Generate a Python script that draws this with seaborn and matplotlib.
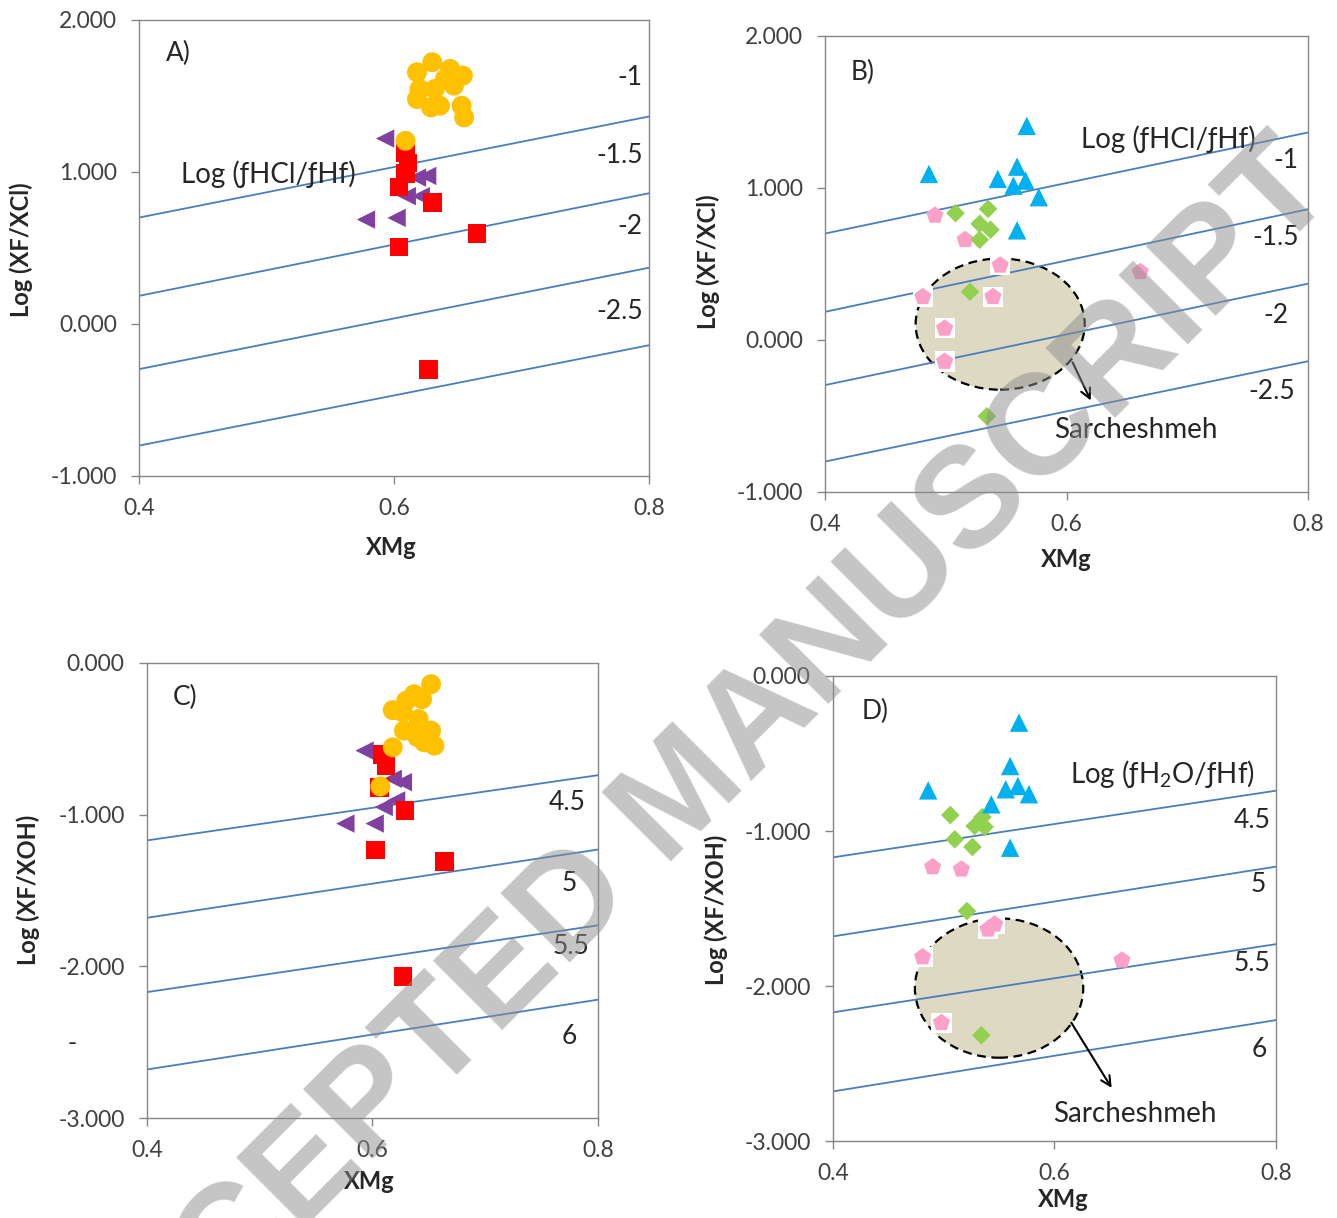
import numpy as np
import pandas as pd
import matplotlib.pyplot as plt
import seaborn as sns
from matplotlib.patches import Ellipse

## ---- data ----

# lines (value at XMg = 0.4 and at XMg = 0.8)
line_x = [0.4, 0.8]
hcl_lines = [[0.70, 1.365], [0.185, 0.86], [-0.297, 0.37], [-0.80, -0.14]]
hcl_labels = ['-1', '-1.5', '-2', '-2.5']
h2o_lines = [[-1.17, -0.74], [-1.68, -1.23], [-2.17, -1.73], [-2.68, -2.22]]
h2o_labels = ['4.5', '5', '5.5', '6']

# panel A  (Log XF/XCl)
a_circ_x = [0.618, 0.630, 0.644, 0.654, 0.647, 0.620, 0.632, 0.640, 0.618, 0.629, 0.636, 0.653, 0.655, 0.609]
a_circ_y = [1.656, 1.722, 1.678, 1.634, 1.568, 1.546, 1.546, 1.612, 1.480, 1.425, 1.436, 1.436, 1.359, 1.205]
a_sq_x = [0.609, 0.611, 0.609, 0.604, 0.630, 0.665, 0.604, 0.627]
a_sq_y = [1.13, 1.06, 0.99, 0.90, 0.80, 0.595, 0.507, -0.30]
a_tri_x = [0.593, 0.626, 0.618, 0.610, 0.621, 0.578, 0.602]
a_tri_y = [1.220, 0.974, 0.963, 0.841, 0.841, 0.687, 0.698]

# panel B  (Log XF/XCl)
b_tri_x = [0.567, 0.486, 0.543, 0.559, 0.556, 0.566, 0.577, 0.559]
b_tri_y = [1.408, 1.092, 1.059, 1.140, 1.015, 1.048, 0.939, 0.721]
b_dia_x = [0.508, 0.535, 0.528, 0.537, 0.528, 0.520, 0.534]
b_dia_y = [0.834, 0.862, 0.764, 0.725, 0.659, 0.317, -0.502]
b_pent_x = [0.491, 0.516, 0.545, 0.481, 0.539, 0.499, 0.499, 0.661]
b_pent_y = [0.819, 0.659, 0.491, 0.284, 0.284, 0.076, -0.142, 0.448]
b_boxed = [2, 3, 4, 5, 6]

# panel C  (Log XF/XOH)
c_circ_x = [0.652, 0.637, 0.644, 0.630, 0.618, 0.627, 0.641, 0.628, 0.652, 0.640, 0.646, 0.655, 0.618, 0.607]
c_circ_y = [-0.140, -0.206, -0.239, -0.249, -0.311, -0.326, -0.370, -0.446, -0.446, -0.490, -0.523, -0.545, -0.556, -0.814]
c_sq_x = [0.609, 0.612, 0.606, 0.629, 0.603, 0.664, 0.627]
c_sq_y = [-0.604, -0.676, -0.823, -0.972, -1.234, -1.311, -2.066]
c_tri_x = [0.593, 0.627, 0.618, 0.621, 0.610, 0.576, 0.602]
c_tri_y = [-0.578, -0.786, -0.764, -0.906, -0.950, -1.059, -1.059]

# panel D  (Log XF/XOH)
d_tri_x = [0.568, 0.560, 0.486, 0.556, 0.567, 0.577, 0.543, 0.560]
d_tri_y = [-0.301, -0.581, -0.738, -0.731, -0.710, -0.763, -0.828, -1.108]
d_dia_x = [0.506, 0.535, 0.528, 0.537, 0.510, 0.526, 0.521, 0.534]
d_dia_y = [-0.897, -0.910, -0.968, -0.974, -1.054, -1.103, -1.516, -2.318]
d_pent_x = [0.490, 0.516, 0.546, 0.540, 0.481, 0.661, 0.498]
d_pent_y = [-1.232, -1.247, -1.602, -1.634, -1.813, -1.834, -2.237]
d_boxed = [2, 3, 4, 6]

## ---- style ----
sns.set_style('ticks')
plt.rcParams['font.family'] = ['Lato', 'DejaVu Sans']
plt.rcParams['mathtext.fontset'] = 'custom'
plt.rcParams['mathtext.rm'] = 'Lato'
plt.rcParams['mathtext.it'] = 'Lato:italic'

gold = '#FFC000'
red = '#FF0000'
purple = '#8040A0'
blue = '#00B0F0'
green = '#92D050'
pink = '#FBA0C8'
line_blue = '#4A7EBB'
axis_gray = '#868686'

fig = plt.figure(figsize=(13.37, 12.18), dpi=100)

ax_a = fig.add_axes([0.1040, 0.6092, 0.3814, 0.3744])
ax_b = fig.add_axes([0.6171, 0.5961, 0.3613, 0.3744])
ax_c = fig.add_axes([0.1099, 0.0821, 0.3373, 0.3736])
ax_d = fig.add_axes([0.6230, 0.0632, 0.3313, 0.3818])


def base_axes(ax, ylim, yticks, ylabel, xlab_pos, ylab_pos):
    ax.set_xlim(0.4, 0.8)
    ax.set_ylim(*ylim)
    ax.set_xticks([0.4, 0.6, 0.8])
    ax.set_xticklabels(['0.4', '0.6', '0.8'])
    ax.set_yticks(yticks)
    ax.set_yticklabels([f'{v:.3f}' for v in yticks])
    ax.tick_params(direction='out', length=6, width=1, color=axis_gray,
                   labelsize=16.5, labelcolor='#404040', pad=10)
    for sp in ax.spines.values():
        sp.set_color(axis_gray)
        sp.set_linewidth(1)
    ax.set_xlabel('XMg', fontsize=17, fontweight='bold')
    ax.set_ylabel(ylabel, fontsize=17, fontweight='bold')
    ax.xaxis.set_label_coords(*xlab_pos)
    ax.yaxis.set_label_coords(*ylab_pos)


def draw_lines(ax, lines, labels, label_pos):
    for (y0, y1), lab, (tx, ty) in zip(lines, labels, label_pos):
        ax.plot(line_x, [y0, y1], color=line_blue, lw=1.3, zorder=2)
        ax.text(tx, ty, lab, fontsize=19, ha='right', va='center')


def scatter(ax, x, y, marker, s, color, z):
    sns.scatterplot(x=x, y=y, marker=marker, s=s, color=color,
                    edgecolor='none', linewidth=0, ax=ax, zorder=z, legend=False)


# ---------------- A ----------------
base_axes(ax_a, (-1, 2), [-1, 0, 1, 2], 'Log (XF/XCl)', (0.494, -0.132), (-0.208, 0.496))
draw_lines(ax_a, hcl_lines, hcl_labels,
           [(0.795, 1.623), (0.795, 1.106), (0.795, 0.643), (0.795, 0.081)])
scatter(ax_a, a_tri_x, a_tri_y, '<', 175, purple, 3)
scatter(ax_a, a_sq_x, a_sq_y, 's', 180, red, 4)
scatter(ax_a, a_circ_x, a_circ_y, 'o', 205, gold, 5)
ax_a.text(0.421, 1.778, 'A)', fontsize=19, ha='left', va='center')
ax_a.text(0.433, 0.985, 'Log (ƒHCl/ƒHf)', fontsize=20, ha='left', va='center')

# ---------------- B ----------------
base_axes(ax_b, (-1, 2), [-1, 0, 1, 2], 'Log (XF/XCl)', (0.499, -0.123), (-0.217, 0.504))
draw_lines(ax_b, hcl_lines, hcl_labels,
           [(0.792, 1.179), (0.792, 0.677), (0.784, 0.164), (0.789, -0.338)])
ax_b.add_patch(Ellipse((0.545, 0.104), 0.140, 0.863, facecolor='#DDD9C3',
                       edgecolor='black', lw=1.6, ls=(0, (4, 2.5)), zorder=1))
bx = [b_pent_x[i] for i in b_boxed]
by = [b_pent_y[i] for i in b_boxed]
scatter(ax_b, bx, by, 's', 210, 'white', 3)
scatter(ax_b, b_pent_x, b_pent_y, 'p', 170, pink, 4)
scatter(ax_b, b_dia_x, b_dia_y, 'D', 90, green, 5)
scatter(ax_b, b_tri_x, b_tri_y, '^', 175, blue, 6)
ax_b.annotate('', xy=(0.621, -0.415), xytext=(0.604, -0.131),
              arrowprops=dict(arrowstyle='->,head_length=0.7,head_width=0.35',
                              color='black', lw=1.5))
ax_b.text(0.590, -0.590, 'Sarcheshmeh', fontsize=20, ha='left', va='center')
ax_b.text(0.612, 1.321, 'Log (ƒHCl/ƒHf)', fontsize=20, ha='left', va='center')
ax_b.text(0.421, 1.758, 'B)', fontsize=19, ha='left', va='center')

# ---------------- C ----------------
base_axes(ax_c, (-3, 0), [-3, -2, -1, 0], 'Log (XF/XOH)', (0.494, -0.114), (-0.237, 0.501))
draw_lines(ax_c, h2o_lines, h2o_labels,
           [(0.789, -0.917), (0.781, -1.453), (0.792, -1.869), (0.781, -2.460)])
scatter(ax_c, c_tri_x, c_tri_y, '<', 175, purple, 3)
scatter(ax_c, c_sq_x, c_sq_y, 's', 180, red, 4)
scatter(ax_c, c_circ_x, c_circ_y, 'o', 205, gold, 5)
ax_c.text(0.423, -0.228, 'C)', fontsize=19, ha='left', va='center')

# ---------------- D ----------------
base_axes(ax_d, (-3, 0), [-3, -2, -1, 0], 'Log (XF/XOH)', (0.519, -0.101), (-0.237, 0.497))
draw_lines(ax_d, h2o_lines, h2o_labels,
           [(0.795, -0.935), (0.791, -1.344), (0.795, -1.856), (0.792, -2.409)])
ax_d.add_patch(Ellipse((0.550, -2.013), 0.152, 0.899, facecolor='#DDD9C3',
                       edgecolor='black', lw=1.6, ls=(0, (4, 2.5)), zorder=1))
dx = [d_pent_x[i] for i in d_boxed]
dy = [d_pent_y[i] for i in d_boxed]
scatter(ax_d, dx, dy, 's', 210, 'white', 3)
scatter(ax_d, d_pent_x, d_pent_y, 'p', 170, pink, 4)
scatter(ax_d, d_dia_x, d_dia_y, 'D', 90, green, 5)
scatter(ax_d, d_tri_x, d_tri_y, '^', 175, blue, 6)
ax_d.annotate('', xy=(0.653, -2.673), xytext=(0.614, -2.222),
              arrowprops=dict(arrowstyle='->,head_length=0.7,head_width=0.35',
                              color='black', lw=1.5))
ax_d.text(0.599, -2.828, 'Sarcheshmeh', fontsize=20, ha='left', va='center')
ax_d.text(0.614, -0.634, 'Log (ƒH$_2$O/ƒHf)', fontsize=20, ha='left', va='center')
ax_d.text(0.426, -0.226, 'D)', fontsize=19, ha='left', va='center')

# stray dash left of panel C
fig.text(0.054, 1 - 1043 / 1218, '-', fontsize=18, ha='center', va='center')

# watermark (runs off the picture edges, as in the original)
fig.text(0.511, 0.346, 'ACCEPTED MANUSCRIPT', rotation=45, rotation_mode='anchor',
         ha='center', va='center', fontsize=103, fontweight='bold',
         family='Liberation Sans', color='#8c8c8c', alpha=0.5, zorder=10)

fig.savefig('out.png', dpi=100, facecolor='white')
